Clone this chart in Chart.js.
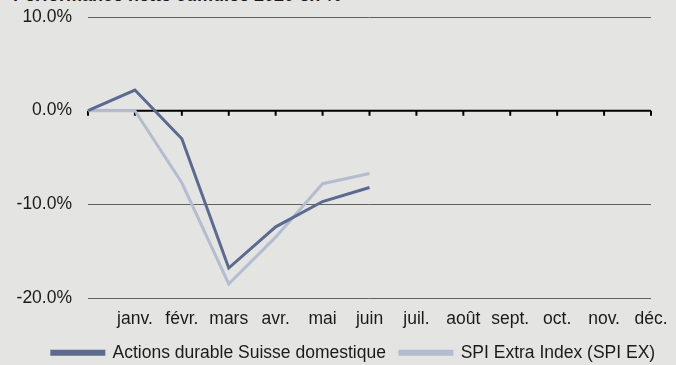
<!DOCTYPE html>
<html>
<head>
<meta charset="utf-8">
<script src="https://cdn.jsdelivr.net/npm/chart.js@4/dist/chart.umd.min.js"></script>
<style>
  html, body { margin: 0; padding: 0; background: #e4e4e2; overflow: hidden; }
  .wrap { position: relative; width: 676px; height: 365px; }
  .title {
    position: absolute; left: 13px; top: -14px;
    font: bold 18px "Liberation Sans", Arial, sans-serif; line-height: 18px;
    color: #1a1a1a; white-space: nowrap;
  }
  canvas { position: absolute; left: 0; top: 0; }
</style>
</head>
<body>
<div class="wrap">
  <div class="title">Performance nette cumulée 2020 en %</div>
  <canvas class="chart-line" width="676" height="365"></canvas>
</div>
<script>
const months = ["", "janv.", "févr.", "mars", "avr.", "mai", "juin", "juil.", "août", "sept.", "oct.", "nov.", "déc."];
const fundName = "Actions durable Suisse domestique";
const fund = [0, 2.2, -3.0, -16.8, -12.4, -9.7, -8.2, null, null, null, null, null, null];
const indexName = "SPI Extra Index (SPI EX)";
const spiEx = [0, 0, -7.7, -18.5, -13.5, -7.8, -6.7, null, null, null, null, null, null];
const yTicks = [-20, -10, 0, 10];

const font = { family: "'Liberation Sans', Arial", size: 17.5 };

// black zero axis with small tick marks under each month
const zeroAxis = {
  id: "zeroAxis",
  beforeDatasetsDraw(chart) {
    const { ctx, scales: { x, y } } = chart;
    const y0 = y.getPixelForValue(0);
    ctx.save();
    ctx.strokeStyle = "#000";
    ctx.lineWidth = 2;
    ctx.beginPath();
    ctx.moveTo(x.left, y0);
    ctx.lineTo(x.right, y0);
    for (let i = 0; i < months.length; i++) {
      const px = x.getPixelForTick(i);
      ctx.moveTo(px, y0);
      ctx.lineTo(px, y0 + 5);
    }
    ctx.stroke();
    ctx.restore();
  },
};

const chart1 = document.querySelector(".chart-line");
var ctx = chart1.getContext("2d");
var myChart = new Chart(ctx, {
  type: "line",
  data: {
    labels: months,
    datasets: [
      {
        label: fundName,
        data: fund,
        borderColor: "#5b6a8e",
        backgroundColor: "#5b6a8e",
        borderWidth: 3,
        pointRadius: 0,
        tension: 0,
      },
      {
        label: indexName,
        data: spiEx,
        borderColor: "#b4bcd0",
        backgroundColor: "#b4bcd0",
        borderWidth: 3,
        pointRadius: 0,
        tension: 0,
      },
    ],
  },
  options: {
    responsive: false,
    animation: false,
    // negative right padding widens the legend row and shifts it right
    layout: { padding: { top: 17, left: 14, right: -17, bottom: -6.5 } },
    plugins: {
      tooltip: { enabled: false },
      legend: {
        position: "bottom",
        labels: {
          boxWidth: 52,
          boxHeight: 3,
          padding: 14,
          color: "#1a1a1a",
          font: font,
        },
      },
    },
    scales: {
      x: {
        offset: false,
        afterFit: (scale) => {
          scale.height = 32;
          scale.paddingRight = 25;
        },
        grid: { display: false, drawTicks: false },
        border: { display: false },
        ticks: {
          autoSkip: false,
          maxRotation: 0,
          padding: 11,
          color: "#1a1a1a",
          font: font,
        },
      },
      y: {
        min: yTicks[0],
        max: yTicks[yTicks.length - 1],
        afterBuildTicks: (scale) => {
          scale.ticks = yTicks.map((v) => ({ value: v }));
        },
        afterFit: (scale) => {
          scale.width = 74;
          scale.paddingTop = 0;
          scale.paddingBottom = 0;
        },
        grid: {
          color: "#616161",
          lineWidth: (c) => (c.tick && c.tick.value === 0 ? 0 : 1),
          drawTicks: false,
        },
        border: { display: false },
        ticks: {
          padding: 16,
          color: "#1a1a1a",
          font: font,
          callback: (v) => v.toFixed(1) + "%",
        },
      },
    },
  },
  plugins: [zeroAxis],
});
</script>
</body>
</html>
